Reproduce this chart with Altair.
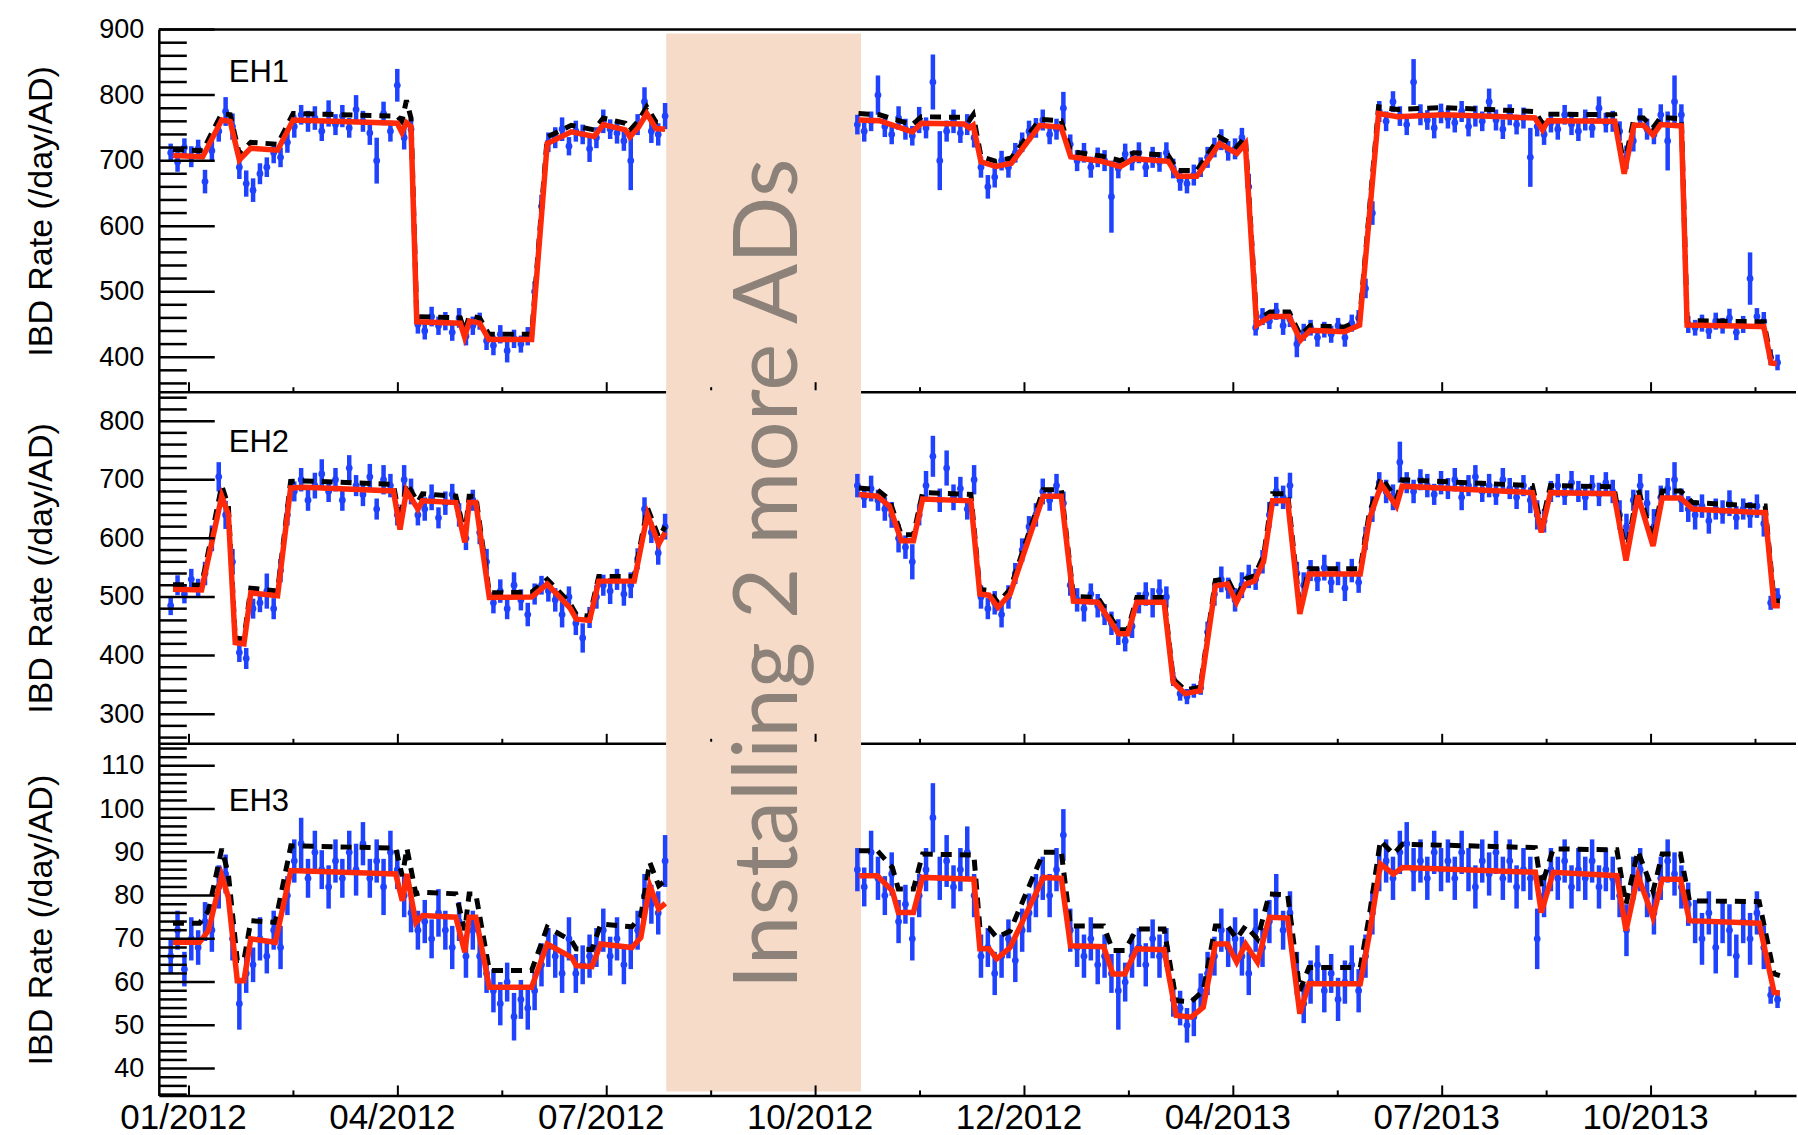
import altair as alt
import pandas as pd

# ---------------------------------------------------------------------------
# Time axis: days since 2012-01-01, major ticks every 91.25 days
# ---------------------------------------------------------------------------
X_RANGE = [-13.18, 702.07]
TICK_DAYS = [0, 91.25, 182.5, 273.75, 365, 456.25, 547.5, 638.75]
TICK_LABELS = ["01/2012", "04/2012", "07/2012", "10/2012",
               "12/2012", "04/2013", "07/2013", "10/2013"]
MINOR_DAYS = [45.625, 136.875, 228.125, 319.375, 410.625, 501.875, 593.125, 684.375]

# shutdown while two more detectors were installed
BAND_DAYS = [208.5, 293.6]
BAND_TEXT = "Installing 2 more ADs"

# daily measurements (every third day shown) before and after the shutdown
SEG1_DAYS = list(range(-8, 209, 3))
SEG2_DAYS = list(range(292, 695, 3))

# ------------------------------- EH1 ---------------------------------------
EH1_SEG1 = [712, 698, 720, 706, 718, 668, 715, 745, 775, 752, 690, 665,
            655, 680, 690, 712, 705, 728, 752, 770, 760, 765, 745, 772,
            755, 768, 750, 778, 760, 742, 700, 772, 745, 815, 735, 748,
            450, 440, 462, 448, 455, 438, 460, 432, 448, 455, 425, 418,
            435, 410, 428, 420, 432, 500, 630, 728, 735, 748, 722, 745,
            740, 718, 735, 760, 748, 742, 730, 700, 755, 790, 745, 740,
            768]
EH1_SEG1_ERR = [14, 15, 14, 16, 14, 18, 15, 16, 22, 20, 18, 20,
                18, 16, 15, 16, 15, 16, 17, 15, 16, 18, 15, 20,
                16, 17, 15, 22, 16, 18, 35, 18, 16, 25, 18, 16,
                14, 13, 15, 14, 14, 13, 15, 14, 14, 13, 14, 15,
                14, 18, 14, 13, 14, 16, 18, 15, 16, 18, 14, 16,
                15, 20, 16, 18, 15, 16, 15, 45, 16, 22, 18, 17,
                20]
EH1_SEG2 = [755, 745, 760, 800, 752, 740, 765, 748, 738, 762, 750, 820,
            700, 745, 760, 742, 755, 735, 690, 660, 675, 700, 690, 712,
            728, 745, 750, 762, 740, 748, 780, 725, 700, 712, 690, 705,
            700, 645, 688, 710, 700, 712, 690, 705, 698, 712, 688, 670,
            665, 678, 690, 705, 720, 732, 715, 718, 735, 660, 445, 462,
            455, 470, 448, 458, 420, 438, 445, 430, 442, 435, 448, 430,
            452, 460, 505, 620, 775, 760, 790, 768, 755, 820, 770, 762,
            750, 772, 765, 758, 775, 752, 768, 760, 790, 762, 748, 770,
            755, 765, 705, 752, 740, 758, 748, 770, 755, 745, 762, 750,
            780, 758, 760, 745, 705, 730, 765, 748, 740, 770, 730, 790,
            770, 450, 445, 452, 440, 455, 448, 460, 438, 450, 520, 462,
            455, 400, 392]
EH1_SEG2_ERR = [15, 16, 15, 30, 16, 15, 18, 16, 15, 20, 16, 42,
                45, 16, 18, 15, 16, 15, 16, 18, 16, 15, 16, 15,
                15, 16, 15, 16, 15, 16, 25, 15, 16, 15, 16, 15,
                16, 55, 15, 16, 15, 16, 15, 16, 15, 16, 15, 16,
                15, 16, 15, 16, 15, 16, 15, 16, 15, 20, 12, 13,
                12, 13, 14, 12, 20, 13, 12, 14, 12, 13, 12, 14,
                13, 12, 15, 18, 16, 15, 16, 15, 16, 35, 16, 15,
                16, 15, 16, 15, 16, 15, 16, 15, 20, 16, 15, 16,
                15, 16, 45, 15, 16, 15, 16, 15, 16, 15, 16, 15,
                18, 15, 16, 15, 18, 16, 15, 16, 15, 16, 45, 40,
                16, 13, 12, 13, 12, 13, 12, 14, 12, 13, 40, 13,
                14, 12, 12]
EH1_FIT1_DAYS = [-7, 6, 14.3, 18, 22, 27, 38.7, 45.5, 91, 93, 95, 97, 99.5,
                 118.5, 120.4, 122.5, 127, 131, 149.7, 156.5,
                 167, 177, 181, 190.6, 192.6, 196.4, 200, 204, 208]
EH1_OSC1 = [708, 706, 762, 760, 701, 719, 716, 762, 757, 743, 758, 752, 454,
            452, 431, 455, 452, 427, 427, 726,
            744, 737, 755, 747, 736, 751, 772, 749, 748]
EH1_NOOSC1 = [717, 715, 772, 770, 710, 728, 725, 772, 768, 760, 792, 765, 462,
              460, 440, 463, 460, 435, 435, 736,
              754, 747, 765, 757, 746, 761, 782, 759, 758]
EH1_FIT2_DAYS = [292.5, 301.7, 316, 320, 338.5, 341, 342.6, 346, 352.6, 359.3,
                 371.7, 381, 385.2, 398.6, 406.9, 412.7, 427.8, 432, 440.3, 450.2,
                 457.8, 461.5, 466.4, 472.3, 480.6, 485.6, 489.8, 504.8, 511.4, 519.7,
                 528, 548, 574.6, 588, 591.3, 593.8, 622.9, 627, 631.3, 635.4,
                 639.6, 642.9, 652, 654.5, 686.2, 688, 691.2, 693.7]
EH1_OSC2 = [762, 761, 744, 757, 756, 750, 754, 698, 691, 696,
            754, 751, 706, 699, 691, 703, 699, 676, 676, 726,
            711, 726, 449, 462, 462, 426, 441, 439, 449, 772,
            767, 770, 767, 765, 747, 761, 760, 680, 754, 754,
            739, 755, 753, 449, 447, 447, 391, 390]
EH1_NOOSC2 = [772, 770, 755, 767, 766, 762, 770, 706, 699, 704,
              763, 761, 714, 707, 700, 712, 708, 685, 685, 736,
              721, 736, 456, 469, 469, 433, 448, 446, 456, 782,
              778, 781, 777, 775, 757, 771, 770, 692, 765, 765,
              750, 766, 764, 456, 454, 454, 397, 396]

# ------------------------------- EH2 ---------------------------------------
EH2_SEG1 = [485, 520, 505, 530, 515, 540, 600, 705, 640, 560, 405, 395,
            480, 490, 510, 480, 545, 640, 680, 700, 665, 690, 710, 680,
            700, 665, 720, 690, 675, 705, 650, 700, 690, 640, 700, 680,
            640, 650, 670, 635, 660, 675, 640, 600, 665, 610, 560, 490,
            510, 480, 520, 495, 470, 505, 520, 510, 495, 470, 500, 455,
            430, 465, 500, 520, 510, 530, 505, 520, 565, 650, 610, 575,
            620]
EH2_SEG1_ERR = [16, 17, 16, 18, 16, 20, 22, 25, 24, 22, 16, 18,
                17, 16, 30, 18, 20, 18, 17, 20, 18, 22, 25, 18,
                20, 18, 22, 18, 20, 22, 18, 25, 20, 18, 25, 22,
                18, 20, 22, 18, 20, 18, 20, 20, 18, 20, 22, 18,
                20, 18, 22, 18, 20, 18, 16, 18, 20, 22, 18, 20,
                25, 18, 20, 18, 22, 18, 20, 22, 18, 20, 18, 20,
                22]
EH2_SEG2 = [690, 670, 685, 665, 650, 640, 600, 585, 560, 640, 690, 740,
            665, 720, 670, 685, 650, 700, 500, 480, 490, 470, 500, 540,
            580, 620, 640, 680, 665, 690, 660, 520, 495, 480, 505, 485,
            470, 455, 440, 425, 450, 490, 505, 490, 510, 500, 360, 335,
            330, 340, 345, 440, 505, 530, 515, 495, 520, 535, 530, 560,
            640, 680, 670, 690, 540, 520, 545, 530, 550, 525, 540, 515,
            545, 525, 600, 650, 695, 680, 670, 730, 695, 680, 700, 690,
            675, 695, 685, 700, 670, 690, 705, 680, 690, 675, 700, 685,
            670, 690, 665, 640, 630, 680, 690, 675, 695, 680, 670, 690,
            675, 695, 680, 640, 620, 665, 690, 660, 620, 670, 685, 700,
            665, 650, 640, 655, 630, 650, 645, 660, 635, 650, 640, 655,
            625, 490, 500]
EH2_SEG2_ERR = [20, 18, 22, 18, 20, 22, 24, 20, 30, 18, 25, 35,
                20, 30, 22, 20, 18, 25, 20, 18, 20, 22, 20, 18,
                20, 18, 20, 22, 18, 20, 20, 18, 20, 22, 18, 20,
                18, 20, 22, 18, 20, 18, 20, 25, 20, 18, 12, 12,
                13, 12, 12, 18, 20, 22, 18, 20, 22, 20, 18, 20,
                22, 25, 20, 22, 20, 22, 18, 20, 22, 18, 20, 22,
                20, 18, 20, 22, 18, 20, 22, 35, 18, 20, 18, 20,
                18, 20, 18, 20, 22, 18, 20, 18, 20, 18, 20, 18,
                20, 18, 22, 25, 20, 18, 20, 18, 20, 18, 22, 18,
                20, 18, 20, 25, 22, 18, 20, 22, 30, 20, 18, 30,
                20, 22, 25, 20, 22, 18, 20, 22, 20, 18, 22, 20,
                22, 12, 15]
EH2_FIT1_DAYS = [-7, 5.5, 14.3, 17.2, 20.2, 24, 27, 38.7, 44.4, 50.4,
                 89.3, 92.2, 95, 100, 102, 116.6, 120.5, 122.4, 125.3, 131.2,
                 149.7, 156.5, 166.3, 169.2, 175, 179, 194.5, 200.3, 205.2, 208]
EH2_OSC1 = [513, 512, 672, 641, 422, 420, 507, 502, 686, 687,
            681, 615, 681, 650, 664, 661, 593, 661, 661, 499,
            500, 522, 482, 462, 460, 527, 527, 641, 590, 610]
EH2_NOOSC1 = [521, 520, 690, 655, 430, 428, 515, 510, 697, 698,
              692, 630, 694, 662, 676, 672, 605, 672, 672, 507,
              508, 530, 490, 470, 467, 535, 535, 652, 602, 620]
EH2_FIT2_DAYS = [292.7, 300.7, 306, 311.2, 316.5, 320.5, 341.6, 345.5, 349.5, 353.4,
                 358.7, 373.2, 381.1, 386.4, 397, 406.2, 410.1, 414.1, 426, 430,
                 435.2, 441.8, 448.4, 453.7, 457.6, 461.6, 465.5, 469.5, 473.4, 480,
                 485.3, 489.3, 511.7, 515.7, 520.9, 527.5, 530, 586.9, 590.8, 594.8,
                 622.5, 627.8, 633, 639.6, 643.6, 651.6, 656.9, 686, 688.6, 692.5,
                 695]
EH2_OSC2 = [675, 672, 655, 596, 596, 667, 664, 505, 503, 482,
            505, 672, 672, 493, 491, 437, 437, 491, 491, 354,
            335, 340, 519, 522, 491, 522, 527, 561, 664, 664,
            471, 539, 539, 633, 692, 655, 689, 678, 610, 678,
            676, 562, 673, 587, 669, 669, 650, 644, 644, 485,
            485]
EH2_NOOSC2 = [686, 683, 666, 606, 606, 678, 675, 513, 511, 490,
              513, 683, 683, 501, 499, 444, 444, 499, 499, 360,
              341, 346, 528, 531, 500, 531, 536, 571, 676, 676,
              480, 548, 548, 644, 704, 667, 700, 690, 621, 690,
              688, 572, 685, 597, 681, 681, 661, 655, 655, 493,
              493]

# ------------------------------- EH3 ---------------------------------------
EH3_SEG1 = [66, 72, 63, 70, 68, 74, 72, 82, 85, 70, 55, 62,
            64, 70, 66, 72, 68, 80, 88, 92, 84, 90, 86, 82,
            88, 84, 90, 86, 92, 84, 88, 82, 90, 86, 80, 76,
            72, 74, 70, 76, 72, 68, 74, 66, 72, 66, 62, 58,
            55, 60, 52, 56, 54, 58, 64, 68, 66, 62, 70, 62,
            64, 66, 68, 72, 66, 70, 64, 68, 72, 80, 78, 76,
            88]
EH3_SEG1_ERR = [4, 4.5, 4, 5, 4, 4.5, 5, 5, 4.5, 5, 6, 4.5,
                4, 5, 4, 4.5, 5, 4.5, 5, 6, 4.5, 5, 4.5, 5,
                5, 4.5, 5, 6, 5, 4.5, 5, 6.5, 5, 4.5, 5, 4.5,
                4.5, 5, 4.5, 5.5, 4.5, 5, 4.5, 5, 4.5, 5, 4.5, 5,
                5, 4.5, 5.5, 4.5, 5, 4.5, 5, 4.5, 5, 4.5, 5, 4.5,
                4.5, 5, 4.5, 5, 4.5, 5, 4.5, 5, 4.5, 5, 4.5, 5,
                6]
EH3_SEG2 = [86, 82, 90, 84, 80, 85, 74, 78, 70, 80, 86, 98,
            84, 88, 82, 86, 90, 80, 66, 68, 62, 66, 70, 65,
            72, 76, 80, 84, 80, 86, 94, 72, 68, 66, 70, 64,
            66, 62, 58, 60, 66, 68, 64, 70, 66, 68, 56, 54,
            50, 52, 58, 62, 66, 72, 68, 70, 66, 62, 72, 68,
            74, 80, 72, 76, 62, 55, 60, 64, 58, 62, 56, 60,
            64, 58, 66, 76, 86, 88, 84, 90, 92, 86, 88, 84,
            90, 86, 88, 84, 90, 86, 82, 88, 85, 90, 84, 88,
            82, 86, 84, 70, 80, 86, 84, 88, 82, 86, 84, 88,
            82, 86, 84, 80, 72, 84, 86, 80, 76, 84, 88, 85,
            82, 78, 74, 70, 76, 68, 74, 72, 66, 74, 70, 76,
            68, 57, 56]
EH3_SEG2_ERR = [5, 4.5, 5, 5, 4.5, 5, 5, 4.5, 5, 5, 5, 8,
                5, 6, 5, 5, 6, 5, 5, 4.5, 5, 5, 4.5, 5,
                5, 4.5, 5, 5, 5, 5, 6, 5, 4.5, 5, 5, 4.5,
                5, 4.5, 9, 4.5, 5, 4.5, 5, 4.5, 5, 4.5, 4, 4,
                4, 4.5, 4, 5, 4.5, 5, 4.5, 5, 4.5, 5, 5, 4.5,
                5, 5, 4.5, 5, 5, 4.5, 5, 4.5, 5, 4.5, 5, 5,
                4.5, 5, 5, 5, 5, 5, 5, 5, 5, 5, 5, 5,
                5, 5, 5, 5, 5, 5, 5, 5, 5, 5, 5, 5,
                5, 5, 5, 7, 5, 5, 5, 5, 5, 5, 5, 5,
                5, 5, 5, 5, 6, 5, 5, 5, 5, 5, 5, 5,
                5, 5, 5, 6, 5, 6, 5, 6, 5, 5, 6, 5,
                5, 2, 2]
EH3_FIT1_DAYS = [-7, 4.6, 8.5, 14.3, 17.2, 21.1, 24, 27, 37.7, 44.5,
                 90.3, 93.2, 95.2, 99.1, 102, 116.6, 120.5, 122.4, 125.3, 131.2,
                 149.7, 156.5, 167.2, 169.2, 176, 179.9, 193.5, 197.4, 201.3, 205.2,
                 208.1]
EH3_OSC1 = [69.2, 69.2, 71.9, 84.6, 79.6, 60.3, 60.3, 70, 69.2, 85.8,
            85, 78.8, 85, 73.8, 75.4, 75, 66.9, 75, 75, 58.8,
            58.8, 68.8, 65.7, 63.8, 63.6, 68.8, 68, 70.3, 82.3, 76.9,
            78.2]
EH3_NOOSC1 = [73.6, 73.6, 76.5, 90.8, 85, 65, 65, 74.2, 73.8, 91.5,
              91, 84.5, 91, 80.4, 80.8, 80.4, 72, 80.4, 80.4, 62.7,
              62.7, 72.7, 69.5, 67.7, 67.5, 73.4, 72.8, 75.3, 87.7, 82.3,
              83.5]
EH3_FIT2_DAYS = [292.7, 300.7, 307.3, 309.9, 316.5, 320.5, 342.9, 345.5, 349.5, 352.9,
                 358.7, 373.3, 381.1, 385.1, 399.6, 403.6, 408.8, 414.1, 426, 431.3,
                 437.9, 443.1, 448.4, 453.7, 457.7, 461.6, 466.8, 472, 480, 485.3,
                 489.3, 511.7, 515.7, 520.5, 526.2, 530.2, 588.2, 590.8, 596, 623.8,
                 627.8, 633, 639.6, 643.6, 651.6, 655.5, 686, 692.5, 695]
EH3_OSC2 = [84.6, 84.6, 81.1, 76.1, 76.1, 84.2, 83.8, 67.7, 67.7, 65.4,
            68, 84.2, 84, 68.4, 68.2, 61.9, 61.9, 67.7, 67.5, 52.3,
            51.9, 54.2, 68.8, 68.8, 64.6, 68.8, 64.6, 75, 74.8, 52.7,
            59.6, 59.6, 71.1, 87.3, 85, 86.5, 85.4, 76.1, 85.4, 84.6,
            71.9, 84.6, 75, 83.8, 83.8, 74.2, 73.6, 57.6, 57.5]
EH3_NOOSC2 = [90.4, 90.4, 86.5, 81.5, 81.5, 89.6, 89.4, 72.7, 72.5, 70.3,
              71.8, 90, 90, 73, 73, 67.3, 67.3, 72.3, 72.3, 55.7,
              55.5, 58, 73, 73, 70, 73, 70, 80.4, 80.2, 58,
              63.4, 63.4, 75.5, 92.7, 89.6, 91.9, 91.1, 82, 90.8, 90.6,
              78, 90.3, 81, 89.6, 89.6, 78.8, 78.6, 61.9, 61.5]

# ---------------------------------------------------------------------------
# Styling and layout
# ---------------------------------------------------------------------------
FONT = "Liberation Sans"
BLUE = "#1f42ff"
RED = "#ff2a0a"
BAND_COLOR = "#f5dbc8"
BAND_TEXT_COLOR = "#8c8279"
PLOT_W = 1639
PANEL_H = [363, 352, 352]
FRAME_W = 2.5

LABEL_EXPR = " : ".join(
    f"datum.value < {d + 1} ? '{lab}'" for d, lab in zip(TICK_DAYS[:-1], TICK_LABELS[:-1])
) + f" : '{TICK_LABELS[-1]}'"


def build_panel(i, name, label_y, y_domain, y_major, y_minor,
                seg1, seg1_err, seg2, seg2_err,
                fit1_days, osc1, noosc1, fit2_days, osc2, noosc2, last=False):
    h = PANEL_H[i]
    xs = alt.Scale(domain=X_RANGE, nice=False, zero=False)
    ys = alt.Scale(domain=y_domain, nice=False, zero=False)

    if last:
        x_axis = alt.Axis(values=TICK_DAYS, labelExpr=LABEL_EXPR, ticks=False, tickSize=0,
                          grid=False, domain=True, domainColor="black", domainWidth=FRAME_W,
                          labelFont=FONT, labelFontSize=35, labelColor="black",
                          labelPadding=5, labelOffset=-6, labelFlush=False,
                          labelOverlap=False, title=None)
    else:
        # the border between panels is drawn as marks, interrupted by the shaded band
        x_axis = alt.Axis(labels=False, ticks=False, grid=False, domain=False, title=None)
    y_axis = alt.Axis(values=y_major, ticks=False, tickSize=0, grid=False, domain=True,
                      domainColor="black", domainWidth=FRAME_W,
                      labelFont=FONT, labelFontSize=27, labelColor="black",
                      labelPadding=15, labelOverlap=False, labelFlush=False,
                      title="IBD Rate (/day/AD)", titleFont=FONT, titleFontSize=34,
                      titleFontWeight="normal", titleColor="black",
                      titleX=-107, titleY=h / 2, titleAngle=270,
                      titleAlign="center", titleBaseline="alphabetic")

    def X(field="day"):
        return alt.X(f"{field}:Q", scale=xs, axis=x_axis)

    def Y(field="rate"):
        return alt.Y(f"{field}:Q", scale=ys, axis=y_axis)

    days = SEG1_DAYS + SEG2_DAYS
    rates = seg1 + seg2
    errs = seg1_err + seg2_err
    pts = pd.DataFrame({
        "day": days,
        "rate": rates,
        "lo": [r - e for r, e in zip(rates, errs)],
        "hi": [r + e for r, e in zip(rates, errs)],
    })

    def curve(d1, v1, d2, v2):
        return pd.DataFrame({
            "day": d1 + d2,
            "rate": v1 + v2,
            "seg": ["before"] * len(d1) + ["after"] * len(d2),
        })

    osc = curve(fit1_days, osc1, fit2_days, osc2)
    noosc = curve(fit1_days, noosc1, fit2_days, noosc2)

    layers = []

    # the shaded period runs unbroken across the panel borders
    band = alt.Chart(pd.DataFrame({"day": [BAND_DAYS[0]], "day_end": [BAND_DAYS[1]]})).mark_rect(
        color=BAND_COLOR
    ).encode(
        x=X(), x2="day_end:Q",
        y=alt.value(4 if i == 0 else -2),
        y2=alt.value(h - 4 if last else h),
    )
    layers.append(band)

    if not last:
        frame_parts = pd.DataFrame({"day": [X_RANGE[0], BAND_DAYS[1]],
                                    "day_end": [BAND_DAYS[0], X_RANGE[1]]})
        bottom_frame = alt.Chart(frame_parts).mark_rule(
            color="black", strokeWidth=FRAME_W
        ).encode(x=X(), x2="day_end:Q", y=alt.value(h))
        layers.append(bottom_frame)

    bars = alt.Chart(pts).mark_rule(color=BLUE, strokeWidth=4.5).encode(
        x=X(), y=Y("lo"), y2="hi:Q"
    )
    dots = alt.Chart(pts).mark_circle(color=BLUE, size=46, opacity=1).encode(x=X(), y=Y())

    line_noosc = alt.Chart(noosc).mark_line(
        color="black", strokeWidth=5, strokeDash=[11, 8]
    ).encode(x=X(), y=Y(), detail="seg:N")
    line_osc = alt.Chart(osc).mark_line(color=RED, strokeWidth=5.5).encode(
        x=X(), y=Y(), detail="seg:N"
    )

    # ticks drawn inward from the frame
    y_major_ticks = alt.Chart(pd.DataFrame({"rate": y_major})).mark_rule(
        color="black", strokeWidth=FRAME_W
    ).encode(y=Y(), x=alt.value(0), x2=alt.value(56))
    y_minor_ticks = alt.Chart(pd.DataFrame({"rate": y_minor})).mark_rule(
        color="black", strokeWidth=FRAME_W
    ).encode(y=Y(), x=alt.value(0), x2=alt.value(28))
    x_major_ticks = alt.Chart(pd.DataFrame({"day": TICK_DAYS})).mark_rule(
        color="black", strokeWidth=2
    ).encode(x=X(), y=alt.value(h), y2=alt.value(h - 10))
    x_minor_ticks = alt.Chart(pd.DataFrame({"day": MINOR_DAYS})).mark_rule(
        color="black", strokeWidth=2
    ).encode(x=X(), y=alt.value(h), y2=alt.value(h - 5))

    hall = alt.Chart(pd.DataFrame({"label": [name]})).mark_text(
        font=FONT, fontSize=31, align="left", baseline="alphabetic", color="black"
    ).encode(text="label:N", x=alt.value(70), y=alt.value(label_y))

    layers += [bars, dots, line_noosc, line_osc,
               y_major_ticks, y_minor_ticks, x_major_ticks, x_minor_ticks, hall]

    if i == 0:
        top_frame = alt.Chart(pd.DataFrame({"edge": [0]})).mark_rule(
            color="black", strokeWidth=FRAME_W
        ).encode(x=alt.value(0), x2=alt.value(PLOT_W), y=alt.value(0))
        layers.append(top_frame)

    if last:
        note = alt.Chart(pd.DataFrame({"note": [BAND_TEXT]})).mark_text(
            font="Lato", fontSize=89, angle=270, align="center",
            baseline="alphabetic", color=BAND_TEXT_COLOR
        ).encode(text="note:N", x=alt.value(639), y=alt.value(-170))
        layers.append(note)

    return alt.layer(*layers).properties(width=PLOT_W, height=h)


p1 = build_panel(
    0, "EH1", 52, [346.6, 900.0],
    [400, 500, 600, 700, 800, 900],
    [v for v in range(360, 900, 20) if v % 100],
    EH1_SEG1, EH1_SEG1_ERR, EH1_SEG2, EH1_SEG2_ERR,
    EH1_FIT1_DAYS, EH1_OSC1, EH1_NOOSC1, EH1_FIT2_DAYS, EH1_OSC2, EH1_NOOSC2,
)
p2 = build_panel(
    1, "EH2", 60, [249.4, 849.4],
    [300, 400, 500, 600, 700, 800],
    [v for v in range(260, 850, 20) if v % 100],
    EH2_SEG1, EH2_SEG1_ERR, EH2_SEG2, EH2_SEG2_ERR,
    EH2_FIT1_DAYS, EH2_OSC1, EH2_NOOSC1, EH2_FIT2_DAYS, EH2_OSC2, EH2_NOOSC2,
)
p3 = build_panel(
    2, "EH3", 67, [33.8, 115.1],
    [40, 50, 60, 70, 80, 90, 100, 110],
    [v for v in range(34, 116, 2) if v % 10],
    EH3_SEG1, EH3_SEG1_ERR, EH3_SEG2, EH3_SEG2_ERR,
    EH3_FIT1_DAYS, EH3_OSC1, EH3_NOOSC1, EH3_FIT2_DAYS, EH3_OSC2, EH3_NOOSC2,
    last=True,
)

chart = alt.vconcat(p1, p2, p3, spacing=0, bounds="flush").properties(
    padding={"left": 24, "top": 14, "right": 0, "bottom": 0},
    autosize=alt.AutoSizeParams(type="pad"),
    background="white",
).configure_view(stroke="transparent")

chart.save("out.html", embed_options={"renderer": "svg", "actions": False})
